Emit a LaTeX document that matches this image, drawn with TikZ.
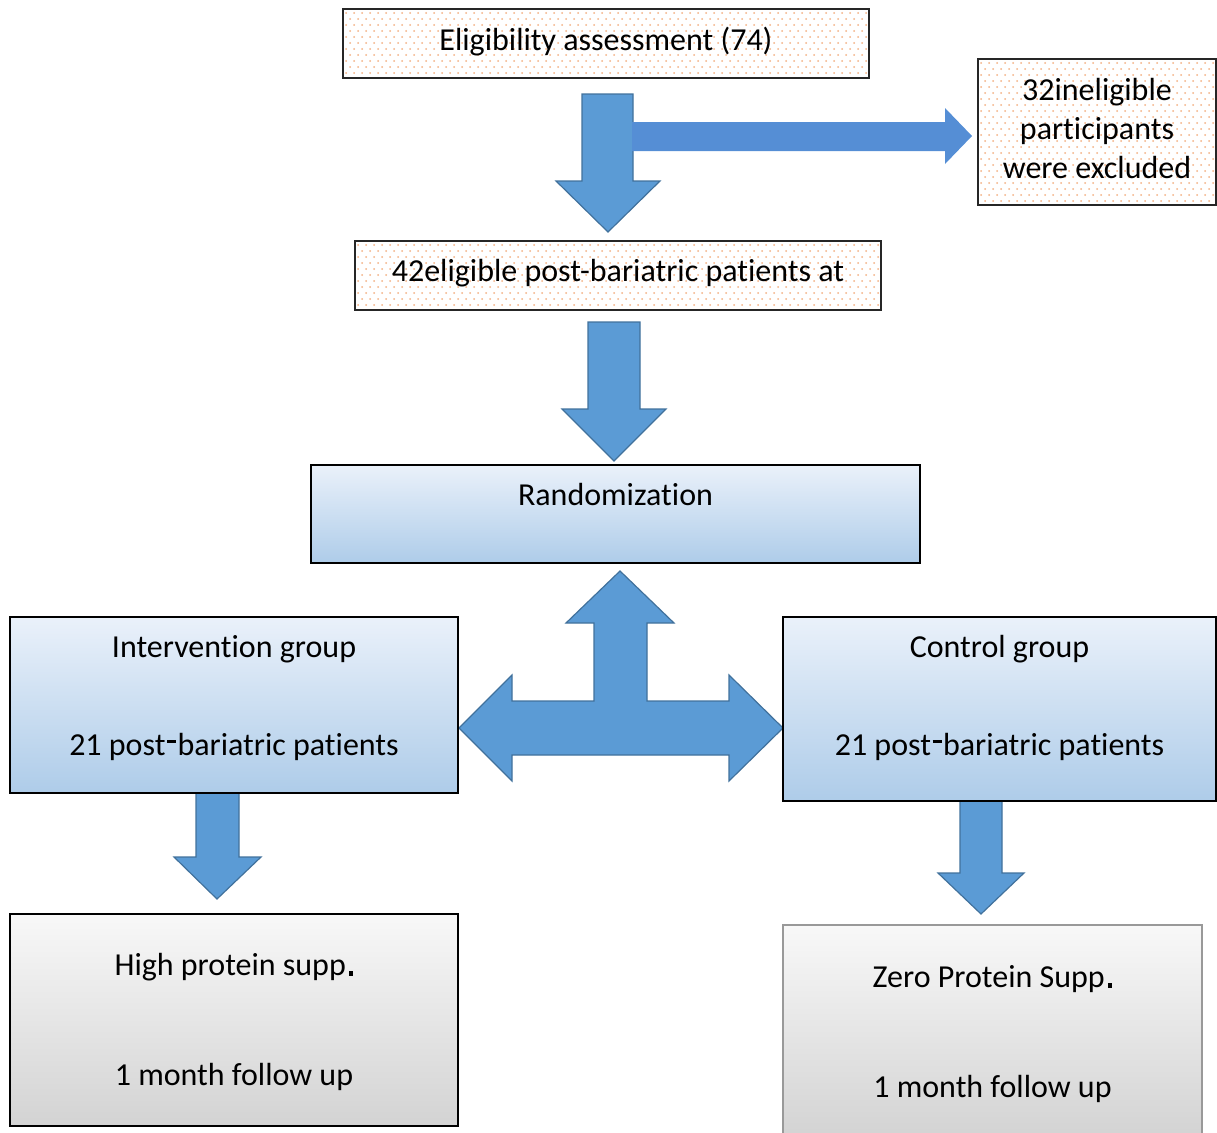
\documentclass[tikz,border=0pt]{standalone}
\usepackage{fontspec}
\setmainfont{Carlito}[Ligatures=NoCommon]
\definecolor{arrowfill}{HTML}{5B9BD5}
\definecolor{arrowline}{HTML}{41719C}
\definecolor{sidearrow}{HTML}{558ED5}
\definecolor{dotcol}{HTML}{F4B183}
\definecolor{bluetop}{HTML}{EAF1FA}
\definecolor{bluebot}{HTML}{AECCE9}
\definecolor{graytop}{HTML}{F8F8F8}
\definecolor{graybot}{HTML}{D3D3D3}
% raised heavy hyphen and heavy full stop as printed in the reference
\newcommand\myhdash{\hspace{1.5pt}\rule[13pt]{9pt}{3pt}\hspace{1.5pt}}
\newcommand\mystop{\hspace{3pt}\rule{4.5pt}{4.5pt}}
% dotted interior for a box: #1,#2 = top-left, #3,#4 = bottom-right, #5 columns, #6 rows
\newcommand\mydotgrid[6]{%
  \begin{scope}
    \clip (#1+1.5,#2+1.5) rectangle (#3-1.5,#4-1.5);
    \foreach \i in {0,...,#5}{
      \foreach \j in {0,...,#6}{
        \fill[dotcol] ({#1+3+\i*8+mod(\j,2)*4},{#2+4+\j*6}) circle (1pt);
      }
    }
  \end{scope}}
\tikzset{
  dotbox/.style={draw=black!85, line width=1.5pt, fill=white},
  bluebox/.style={draw=black, line width=1.5pt, top color=bluetop, bottom color=bluebot},
  graybox/.style={draw=black, line width=1.5pt, top color=graytop, bottom color=graybot},
  txt/.style={font=\fontsize{32}{39}\selectfont, text height=22pt, text depth=7pt, inner sep=0pt},
  blockarrow/.style={fill=arrowfill, draw=arrowline, line width=1.2pt, line join=miter},
}
\begin{document}
\begin{tikzpicture}[x=1pt,y=-1pt]
\useasboundingbox (0,0) rectangle (1217,1132);

% arrows
\draw[blockarrow] (582,94) -- (633,94) -- (633,181) -- (660,181) -- (608,232) -- (556,181) -- (582,181) -- cycle;
\fill[sidearrow] (632,122) -- (945,122) -- (945,108) -- (972,136) -- (945,164) -- (945,151) -- (632,151) -- cycle;
\draw[blockarrow] (588,322) -- (640,322) -- (640,409) -- (666,409) -- (614,461) -- (562,409) -- (588,409) -- cycle;
\draw[blockarrow] (620,571) -- (674,623) -- (647,623) -- (647,701) -- (729,701) -- (729,675) -- (783,728)
  -- (729,781) -- (729,755) -- (512,755) -- (512,781) -- (459,728) -- (512,675) -- (512,701)
  -- (594,701) -- (594,623) -- (566,623) -- cycle;
\draw[blockarrow] (196,793) -- (239,793) -- (239,857) -- (261,857) -- (217,899) -- (174,857) -- (196,857) -- cycle;
\draw[blockarrow] (960,801) -- (1002,801) -- (1002,873) -- (1024,873) -- (981,914) -- (938,873) -- (960,873) -- cycle;

% boxes
\node[dotbox, minimum width=526pt, minimum height=69pt, inner sep=0pt] (elig) at (606,43.5) {};
\mydotgrid{343}{9}{869}{78}{66}{12}
\node[txt] (eligt) at (606,43) {Eligibility assessment (74)};

\node[dotbox, minimum width=238pt, minimum height=146pt, inner sep=0pt] (excl) at (1097,132) {};
\mydotgrid{978}{59}{1216}{205}{30}{25}
\node[txt] (exclt1) at (1097,93) {32ineligible};
\node[txt] (exclt2) at (1097,132) {participants};
\node[txt] (exclt3) at (1097,171) {were excluded};

\node[dotbox, minimum width=526pt, minimum height=69pt, inner sep=0pt] (elig2) at (618,275.5) {};
\mydotgrid{355}{241}{881}{310}{66}{12}
\node[txt] (elig2t) at (618,274) {42eligible post-bariatric patients at};

\node[bluebox, minimum width=609pt, minimum height=98pt, inner sep=0pt] (rand) at (615.5,514) {};
\node[txt] (randt) at (615.5,498) {Randomization};

\node[bluebox, minimum width=448pt, minimum height=176pt, inner sep=0pt] (interv) at (234,705) {};
\node[txt] (intervt1) at (234,650) {Intervention group};
\node[txt] (intervt2) at (234,748) {21 post\myhdash bariatric patients};

\node[bluebox, minimum width=433pt, minimum height=184pt, inner sep=0pt] (ctrl) at (999.5,709) {};
\node[txt] (ctrlt1) at (999.5,650) {Control group};
\node[txt] (ctrlt2) at (999.5,748) {21 post\myhdash bariatric patients};

\node[graybox, minimum width=448pt, minimum height=212pt, inner sep=0pt] (high) at (234,1020) {};
\node[txt] (hight1) at (234,968) {High protein supp\mystop};
\node[txt] (hight2) at (234,1078) {1 month follow up};

\node[graybox, draw=black!40, minimum width=419pt, minimum height=212pt, inner sep=0pt] (zero) at (992.5,1031) {};
\node[txt] (zerot1) at (992.5,980) {Zero Protein Supp\mystop};
\node[txt] (zerot2) at (992.5,1090) {1 month follow up};
\end{tikzpicture}
\end{document}
